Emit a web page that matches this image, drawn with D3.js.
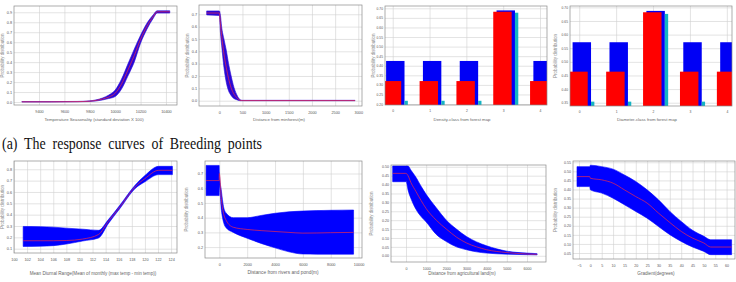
<!DOCTYPE html>
<html>
<head>
<meta charset="utf-8">
<script src="https://cdn.jsdelivr.net/npm/d3@7"></script>
<style>
  body { margin: 0; background: #fff; }
  svg text { font-family: "Liberation Sans", Arial, sans-serif; }
  .caption { font-family: "Liberation Serif", "Times New Roman", serif !important; }
</style>
</head>
<body>
<svg id="fig" width="736" height="282"></svg>
<script>
(function () {

    /* ── data ─────────────────────────────────────────────────────── */

    // temperature seasonality
    var TEMP_X    = [9265, 9500, 9700, 9800, 9900, 9950, 10000, 10050, 10100, 10150, 10200, 10250, 10300, 10330, 10430];
    var TEMP_LO   = [0, 0, 0.002, 0.005, 0.02, 0.035, 0.055, 0.13, 0.26, 0.40, 0.59, 0.73, 0.84, 0.892, 0.892];
    var TEMP_HI   = [0.004, 0.004, 0.006, 0.012, 0.04, 0.07, 0.12, 0.23, 0.38, 0.53, 0.67, 0.79, 0.875, 0.915, 0.915];
    var TEMP_MEAN = [0.002, 0.002, 0.004, 0.008, 0.03, 0.05, 0.088, 0.18, 0.32, 0.465, 0.63, 0.76, 0.858, 0.905, 0.905];
    var TEMP_XTICKS = [9400, 9600, 9800, 10000, 10200, 10400];
    var TEMP_YTICKS = [0, 0.1, 0.2, 0.3, 0.4, 0.5, 0.6, 0.7, 0.8, 0.9];

    // distance from forest
    var FOREST_X    = [-272, 0, 25, 50, 100, 150, 200, 250, 300, 375, 450, 500, 2930];
    var FOREST_LO   = [0.695, 0.69, 0.55, 0.45, 0.27, 0.15, 0.08, 0.045, 0.022, 0.008, 0, 0, 0];
    var FOREST_HI   = [0.727, 0.727, 0.69, 0.60, 0.50, 0.41, 0.30, 0.21, 0.13, 0.05, 0.008, 0.003, 0.003];
    var FOREST_MEAN = [0.71, 0.71, 0.62, 0.53, 0.38, 0.27, 0.18, 0.11, 0.065, 0.025, 0.003, 0.001, 0.001];
    var FOREST_XTICKS = [0, 500, 1000, 1500, 2000, 2500, 3000];
    var FOREST_YTICKS = [0, 0.1, 0.2, 0.3, 0.4, 0.5, 0.6, 0.7];

    // density class
    var DENSITY_CLASS = [0, 1, 2, 3, 4];
    var DENSITY_RED   = [0.32, 0.32, 0.32, 0.682, 0.32];
    var DENSITY_BLUE  = [0.425, 0.425, 0.425, 0.689, 0.425];
    var DENSITY_CYAN  = [0.217, 0.217, 0.217, 0.677, 0.217];
    var DENSITY_YTICKS = [0.20, 0.25, 0.30, 0.35, 0.40, 0.45, 0.50, 0.55, 0.60, 0.65, 0.70];

    // diameter class
    var DIAMETER_CLASS = [0, 1, 2, 3, 4];
    var DIAMETER_RED   = [0.464, 0.464, 0.682, 0.464, 0.464];
    var DIAMETER_BLUE  = [0.572, 0.572, 0.687, 0.572, 0.572];
    var DIAMETER_CYAN  = [0.354, 0.354, 0.676, 0.354, 0.354];
    var DIAMETER_YTICKS = [0.35, 0.40, 0.45, 0.50, 0.55, 0.60, 0.65, 0.70];

    // mean diurnal range
    var DIURNAL_X    = [101.4, 104, 106, 108, 110.5, 112.9, 114.4, 116.2, 118.5, 120.0, 122.1, 124.2];
    var DIURNAL_LO   = [0.12, 0.122, 0.127, 0.141, 0.168, 0.194, 0.32, 0.456, 0.63, 0.69, 0.753, 0.753];
    var DIURNAL_HI   = [0.296, 0.294, 0.29, 0.281, 0.272, 0.262, 0.355, 0.485, 0.66, 0.745, 0.826, 0.826];
    var DIURNAL_MEAN = [0.17, 0.17, 0.17, 0.172, 0.185, 0.225, 0.339, 0.47, 0.645, 0.718, 0.791, 0.791];
    var DIURNAL_XTICKS = [100, 102, 104, 106, 108, 110, 112, 114, 116, 118, 120, 122, 124];
    var DIURNAL_YTICKS = [0.1, 0.2, 0.3, 0.4, 0.5, 0.6, 0.7, 0.8];

    // distance from rivers and pond
    var RIVER_X    = [-950, -10, 0, 150, 300, 500, 1000, 2000, 3000, 4000, 5000, 6000, 7000, 8000, 9640];
    var RIVER_LO   = [0.55, 0.55, 0.62, 0.45, 0.37, 0.33, 0.30, 0.26, 0.225, 0.195, 0.168, 0.153, 0.152, 0.152, 0.152];
    var RIVER_HI   = [0.755, 0.755, 0.71, 0.58, 0.475, 0.43, 0.40, 0.40, 0.415, 0.43, 0.44, 0.445, 0.448, 0.45, 0.452];
    var RIVER_MEAN = [0.652, 0.652, 0.70, 0.52, 0.43, 0.38, 0.335, 0.32, 0.312, 0.306, 0.30, 0.295, 0.296, 0.298, 0.30];
    var RIVER_XTICKS = [0, 2000, 4000, 6000, 8000, 10000];
    var RIVER_YTICKS = [0.2, 0.3, 0.4, 0.5, 0.6, 0.7];

    // distance from agricultural land
    var AGRI_X    = [-660, -5, 0, 100, 250, 500, 750, 1000, 1500, 2000, 2500, 3000, 3500, 4000, 5000, 6000, 6500];
    var AGRI_LO   = [0.416, 0.416, 0.42, 0.37, 0.32, 0.26, 0.22, 0.19, 0.12, 0.08, 0.05, 0.034, 0.022, 0.015, 0.009, 0.006, 0.005];
    var AGRI_HI   = [0.505, 0.505, 0.505, 0.505, 0.48, 0.44, 0.39, 0.345, 0.27, 0.20, 0.15, 0.108, 0.078, 0.056, 0.026, 0.015, 0.012];
    var AGRI_MEAN = [0.463, 0.463, 0.463, 0.45, 0.41, 0.36, 0.31, 0.265, 0.2, 0.15, 0.105, 0.072, 0.05, 0.034, 0.018, 0.01, 0.008];
    var AGRI_XTICKS = [0, 1000, 2000, 3000, 4000, 5000, 6000];
    var AGRI_YTICKS = [0, 0.05, 0.10, 0.15, 0.20, 0.25, 0.30, 0.35, 0.40, 0.45, 0.50];

    // gradient
    var SLOPE_X    = [-5.9, -0.3, 0, 5, 10, 15, 20, 25, 30, 35, 40, 45, 50, 53, 62.2];
    var SLOPE_LO   = [0.416, 0.416, 0.398, 0.38, 0.352, 0.316, 0.279, 0.242, 0.196, 0.151, 0.114, 0.083, 0.059, 0.041, 0.041];
    var SLOPE_HI   = [0.526, 0.526, 0.534, 0.526, 0.512, 0.48, 0.444, 0.398, 0.343, 0.279, 0.224, 0.175, 0.142, 0.123, 0.123];
    var SLOPE_MEAN = [0.471, 0.471, 0.462, 0.453, 0.435, 0.398, 0.361, 0.325, 0.27, 0.218, 0.169, 0.132, 0.105, 0.083, 0.083];
    var SLOPE_XTICKS = [-5, 0, 5, 10, 15, 20, 25, 30, 35, 40, 45, 50, 55, 60];
    var SLOPE_YTICKS = [0.05, 0.10, 0.15, 0.20, 0.25, 0.30, 0.35, 0.40, 0.45, 0.50, 0.55];

    var CAPTION = "(a) The response curves of Breeding points";
    var YTITLE  = "Probability distribution";

    /* ── styling ──────────────────────────────────────────────────── */
    var GRID  = "#d0d0d0";
    var FRAME = "#8a8a8a";
    var TICK  = "#555";
    var TITLE = "#666";

    var svg = d3.select("#fig");
    var clipN = 0;

    /* ── shared frame: grid, ticks, titles ────────────────────────── */
    function framePanel(cfg) {
        var g = svg.append("g")
            .attr("transform", "translate(" + cfg.x + "," + cfg.y + ")");

        var x = d3.scaleLinear().domain(cfg.xDomain).range([0, cfg.w]);
        var y = d3.scaleLinear().domain(cfg.yDomain).range([cfg.h, 0]);
        var fs = cfg.tickSize || 3.8;

        // grid
        g.append("g").attr("transform", "translate(0," + cfg.h + ")")
            .call(d3.axisBottom(x).tickValues(cfg.xTicks).tickSize(-cfg.h).tickFormat(""))
            .call(function (a) {
                a.select(".domain").remove();
                a.selectAll("line").attr("stroke", GRID).attr("stroke-width", 0.6);
            });
        g.append("g")
            .call(d3.axisLeft(y).tickValues(cfg.yTicks).tickSize(-cfg.w).tickFormat(""))
            .call(function (a) {
                a.select(".domain").remove();
                a.selectAll("line").attr("stroke", GRID).attr("stroke-width", 0.6);
            });

        // tick labels
        g.append("g").attr("transform", "translate(0," + cfg.h + ")")
            .call(d3.axisBottom(x).tickValues(cfg.xTicks).tickSize(0).tickPadding(5)
                .tickFormat(d3.format("d")))
            .call(function (a) {
                a.select(".domain").remove();
                a.selectAll("text").attr("font-size", fs).attr("fill", TICK)
                    .attr("font-family", "Liberation Sans, Arial, sans-serif");
            });
        g.append("g")
            .call(d3.axisLeft(y).tickValues(cfg.yTicks).tickSize(0).tickPadding(2)
                .tickFormat(d3.format(cfg.yFormat)))
            .call(function (a) {
                a.select(".domain").remove();
                a.selectAll("text").attr("font-size", fs).attr("fill", TICK)
                    .attr("font-family", "Liberation Sans, Arial, sans-serif");
            });

        // titles
        g.append("text")
            .attr("x", cfg.xTitleX - cfg.x).attr("y", cfg.xTitleY - cfg.y)
            .attr("text-anchor", "middle")
            .attr("font-size", cfg.titleSize || 4.5)
            .attr("fill", TITLE)
            .text(cfg.xTitle);
        g.append("text")
            .attr("transform", "translate(" + (cfg.yTitleX - cfg.x) + "," + (cfg.h / 2) + ") rotate(-90)")
            .attr("text-anchor", "middle")
            .attr("font-size", 4.5)
            .attr("fill", "#8c8c8c")
            .text(YTITLE);

        // clip
        var id = "clip-" + (clipN++);
        g.append("defs").append("clipPath").attr("id", id)
            .append("rect").attr("width", cfg.w).attr("height", cfg.h);
        var plot = g.append("g").attr("clip-path", "url(#" + id + ")");

        return { g: g, plot: plot, x: x, y: y, cfg: cfg };
    }

    function drawFrameBorder(p) {
        p.g.append("rect")
            .attr("width", p.cfg.w).attr("height", p.cfg.h)
            .attr("fill", "none").attr("stroke", FRAME).attr("stroke-width", 0.7);
    }

    /* ── response curve: band + mean ──────────────────────────────── */
    function curvePanel(cfg, xs, lo, hi, mean, bandColor) {
        var p = framePanel(cfg);
        var rows = xs.map(function (v, i) { return { x: v, lo: lo[i], hi: hi[i], m: mean[i] }; });

        var area = d3.area()
            .x(function (d) { return p.x(d.x); })
            .y0(function (d) { return p.y(d.lo); })
            .y1(function (d) { return p.y(d.hi); })
            .curve(d3.curveMonotoneX);
        var line = d3.line()
            .x(function (d) { return p.x(d.x); })
            .y(function (d) { return p.y(d.m); })
            .curve(d3.curveMonotoneX);

        p.plot.append("path").datum(rows)
            .attr("d", area)
            .attr("fill", bandColor)
            .attr("stroke", bandColor).attr("stroke-width", 0.6);
        p.plot.append("path").datum(rows)
            .attr("d", line)
            .attr("fill", "none")
            .attr("stroke", "#f02a4a")
            .attr("stroke-width", 0.7);

        drawFrameBorder(p);
    }

    /* ── categorical panel: three overlapping bars ────────────────── */
    function barPanel(cfg, cats, red, blue, cyan) {
        var p = framePanel(cfg);
        var base = cfg.yDomain[0];

        var layers = [
            { vals: blue, color: "#0000f5", off: -0.18, wd: 0.50 },
            { vals: red,  color: "#ff0000", off: -0.27, wd: 0.50 },
            { vals: cyan, color: "#14b4c4", off:  0.32, wd: 0.09 }
        ];
        layers.forEach(function (L) {
            p.plot.append("g").selectAll("rect")
                .data(cats).enter().append("rect")
                .attr("x", function (c) { return p.x(c + L.off); })
                .attr("width", function (c) { return p.x(c + L.off + L.wd) - p.x(c + L.off); })
                .attr("y", function (c, i) { return p.y(L.vals[i]); })
                .attr("height", function (c, i) { return p.y(base) - p.y(L.vals[i]); })
                .attr("fill", L.color);
        });

        drawFrameBorder(p);
    }

    /* ── top row ──────────────────────────────────────────────────── */
    curvePanel({
        x: 14, y: 6, w: 163, h: 99,
        xDomain: [9203, 10487], yDomain: [-0.03, 0.963],
        xTicks: TEMP_XTICKS, yTicks: TEMP_YTICKS, yFormat: ".1f",
        xTitle: "Temperature Seasonality (standard deviation X 100)",
        xTitleX: 94, xTitleY: 121, yTitleX: 3.5, titleSize: 4.3
    }, TEMP_X, TEMP_LO, TEMP_HI, TEMP_MEAN, "#2a08d6");

    curvePanel({
        x: 199, y: 5, w: 163, h: 101,
        xDomain: [-438, 3080], yDomain: [-0.043, 0.775],
        xTicks: FOREST_XTICKS, yTicks: FOREST_YTICKS, yFormat: ".1f",
        xTitle: "Distance from minforest(m)",
        xTitleX: 279, xTitleY: 121, yTitleX: 188.5, titleSize: 4.3
    }, FOREST_X, FOREST_LO, FOREST_HI, FOREST_MEAN, "#2a08d6");

    barPanel({
        x: 385, y: 6, w: 162, h: 99,
        xDomain: [-0.21, 4.19], yDomain: [0.195, 0.712],
        xTicks: DENSITY_CLASS, yTicks: DENSITY_YTICKS, yFormat: ".2f",
        xTitle: "Density-class from forest map",
        xTitleX: 462, xTitleY: 121, yTitleX: 374.5, titleSize: 4.3, tickSize: 3.3
    }, DENSITY_CLASS, DENSITY_RED, DENSITY_BLUE, DENSITY_CYAN);

    barPanel({
        x: 570, y: 6, w: 162, h: 100,
        xDomain: [-0.25, 4.14], yDomain: [0.338, 0.705],
        xTicks: DIAMETER_CLASS, yTicks: DIAMETER_YTICKS, yFormat: ".2f",
        xTitle: "Diameter-class from forest map",
        xTitleX: 647, xTitleY: 121, yTitleX: 557, titleSize: 4.3, tickSize: 3.3
    }, DIAMETER_CLASS, DIAMETER_RED, DIAMETER_BLUE, DIAMETER_CYAN);

    /* ── caption ──────────────────────────────────────────────────── */
    svg.append("text")
        .attr("class", "caption")
        .attr("x", 2).attr("y", 149)
        .attr("font-size", 17)
        .attr("word-spacing", 4)
        .attr("textLength", 260)
        .attr("lengthAdjust", "spacingAndGlyphs")
        .attr("fill", "#111")
        .text(CAPTION);

    /* ── bottom row ───────────────────────────────────────────────── */
    curvePanel({
        x: 14, y: 161, w: 163, h: 92,
        xDomain: [100, 124.9], yDomain: [0.062, 0.873],
        xTicks: DIURNAL_XTICKS, yTicks: DIURNAL_YTICKS, yFormat: ".1f",
        xTitle: "Mean Diurnal Range(Mean of monthly (max temp - min temp))",
        xTitleX: 93, xTitleY: 275, yTitleX: 4, titleSize: 4.6
    }, DIURNAL_X, DIURNAL_LO, DIURNAL_HI, DIURNAL_MEAN, "#0000ff");

    curvePanel({
        x: 205, y: 161, w: 157, h: 97,
        xDomain: [-1029, 10245], yDomain: [0.126, 0.785],
        xTicks: RIVER_XTICKS, yTicks: RIVER_YTICKS, yFormat: ".1f",
        xTitle: "Distance from rivers and pond(m)",
        xTitleX: 283, xTitleY: 274, yTitleX: 188, titleSize: 4.8
    }, RIVER_X, RIVER_LO, RIVER_HI, RIVER_MEAN, "#0000ff");

    curvePanel({
        x: 391, y: 165, w: 155, h: 97,
        xDomain: [-744, 6942], yDomain: [-0.035, 0.51],
        xTicks: AGRI_XTICKS, yTicks: AGRI_YTICKS, yFormat: ".2f",
        xTitle: "Distance from agricultural land(m)",
        xTitleX: 462, xTitleY: 275, yTitleX: 373, titleSize: 4.5, tickSize: 3.6
    }, AGRI_X, AGRI_LO, AGRI_HI, AGRI_MEAN, "#0000ff");

    curvePanel({
        x: 573, y: 161, w: 162, h: 98,
        xDomain: [-7.65, 63.7], yDomain: [0.017, 0.557],
        xTicks: SLOPE_XTICKS, yTicks: SLOPE_YTICKS, yFormat: ".2f",
        xTitle: "Gradient(degrees)",
        xTitleX: 656, xTitleY: 275, yTitleX: 557, titleSize: 4.6, tickSize: 3.6
    }, SLOPE_X, SLOPE_LO, SLOPE_HI, SLOPE_MEAN, "#0000ff");

}());
</script>
</body>
</html>
